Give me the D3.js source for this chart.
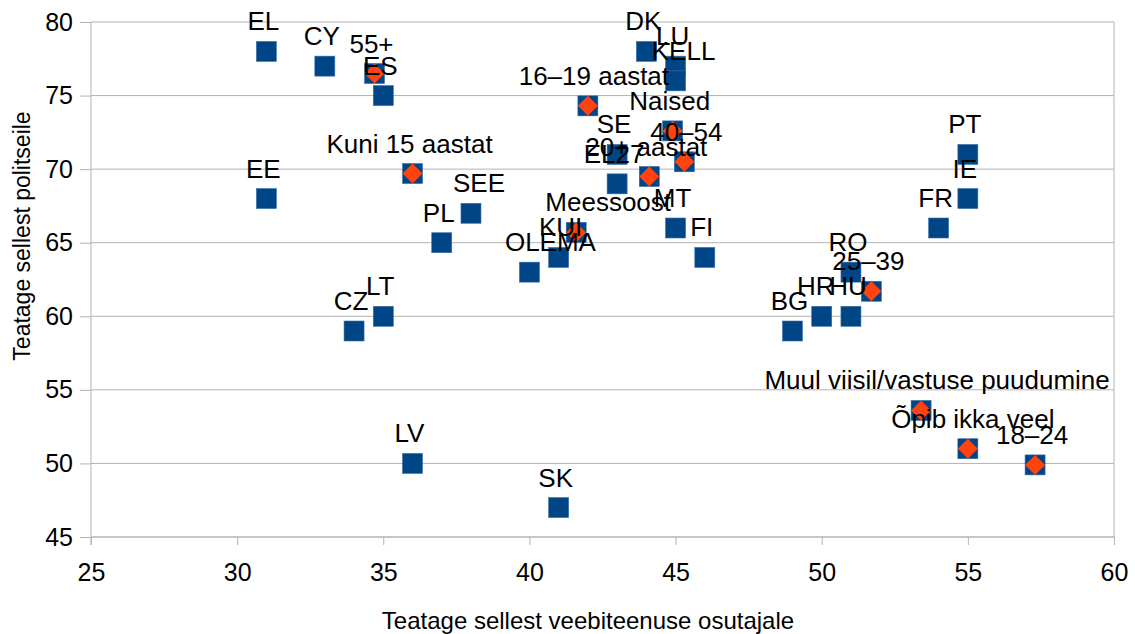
<!DOCTYPE html>
<html>
<head>
<meta charset="utf-8">
<script src="https://cdn.jsdelivr.net/npm/d3@7"></script>
<style>
  body { margin: 0; background: #fff; }
  text { font-family: "Liberation Sans", Arial, sans-serif; fill: #000; }
  .grid line { stroke: #b3b3b3; stroke-width: 1; }
  .axis path, .axis line { stroke: #b3b3b3; }
  .axis text { font-size: 25px; }
  .pt-label { font-size: 26px; text-anchor: middle; }
  .axis-label { font-size: 24px; text-anchor: middle; }
</style>
</head>
<body>
<div id="scatterplot"></div>
<script>
const width = 1135, height = 634;
const margin = {top: 22, bottom: 97, left: 91, right: 21};

// square series (countries and other points)
const squareLabels = ['EL','CY','ES','EE','PL','SEE','OLEMA','KUI','CZ','LT','LV','SK','DK','LU','KELL',
                      'SE','EL27','MT','FI','BG','HR','HU','RO','FR','PT','IE'];
const squareX = [31,33,35,31,37,38,40,41,34,35,36,41,44,45,45,43,43,45,46,49,50,51,51,54,55,55];
const squareY = [78,77,75,68,65,67,63,64,59,60,50,47,78,77,76,71,69,66,64,59,60,60,63,66,71,68];

// diamond series (population groups)
const groupLabels = ['55+','16–19 aastat','Naised','40–54','20+ aastat','Kuni 15 aastat','Meessoost',
                     '25–39','Muul viisil/vastuse puudumine','Õpib ikka veel','18–24'];
const groupX = [34.7,42.0,44.9,45.3,44.1,36.0,41.6,51.7,53.4,55.0,57.3];
const groupY = [76.5,74.3,72.6,70.5,69.5,69.7,65.7,61.7,53.6,51.0,49.9];

const xTicks = [25,30,35,40,45,50,55,60];
const yTicks = [45,50,55,60,65,70,75,80];

// label nudges where the original labels sit off-centre
const labelShift = {'Meessoost': 35, 'OLEMA': 24, 'SEE': 11, 'KELL': 11,
                    'Muul viisil/vastuse puudumine': 19, 'Õpib ikka veel': 8, '16–19 aastat': 9,
                    '40–54': 5, 'KUI': 5, 'HR': -3};

const graph_width = width - margin.left - margin.right;
const graph_height = height - margin.top - margin.bottom;

const x = d3.scaleLinear().domain([25, 60]).range([margin.left, margin.left + graph_width]);
const y = d3.scaleLinear().domain([45, 80]).range([margin.top + graph_height, margin.top]);

const svg = d3.select('#scatterplot').append('svg')
    .attr('width', width)
    .attr('height', height);

// horizontal grid
svg.append('g').attr('class', 'grid')
    .selectAll('line').data(yTicks).enter().append('line')
    .attr('x1', margin.left).attr('x2', margin.left + graph_width)
    .attr('y1', d => y(d)).attr('y2', d => y(d));

// right border
svg.append('line')
    .attr('x1', x(60)).attr('x2', x(60))
    .attr('y1', y(80)).attr('y2', y(45))
    .attr('stroke', '#b3b3b3');

const xAxis = svg.append('g').attr('class', 'axis')
    .attr('transform', 'translate(0,' + (margin.top + graph_height) + ')')
    .call(d3.axisBottom(x).tickValues(xTicks).tickSize(8).tickSizeOuter(0).tickPadding(18));
xAxis.select('.domain').attr('d', 'M' + x(25) + ',0H' + x(60));

const yAxis = svg.append('g').attr('class', 'axis')
    .attr('transform', 'translate(' + margin.left + ',0)')
    .call(d3.axisLeft(y).tickValues(yTicks).tickSize(11).tickSizeOuter(0).tickPadding(7));
yAxis.select('.domain').attr('d', 'M0,' + y(80) + 'V' + (y(45) + 8));

const squares = squareLabels.map((l, i) => ({label: l, x: squareX[i], y: squareY[i]}));
const groups = groupLabels.map((l, i) => ({label: l, x: groupX[i], y: groupY[i]}));

const sq = 20;
// blue squares: all points (groups have a square behind the diamond too)
svg.append('g').selectAll('rect')
    .data(squares.concat(groups)).enter().append('rect')
    .attr('x', d => x(d.x) - sq / 2)
    .attr('y', d => y(d.y) - sq / 2)
    .attr('width', sq).attr('height', sq)
    .attr('fill', '#004586')
    .attr('stroke', '#3a6fa8').attr('stroke-width', 0.6);

const dm = 10;
svg.append('g').selectAll('path')
    .data(groups).enter().append('path')
    .attr('d', d => {
        const cx = x(d.x), cy = y(d.y);
        return 'M' + cx + ',' + (cy - dm) + 'L' + (cx + dm) + ',' + cy +
               'L' + cx + ',' + (cy + dm) + 'L' + (cx - dm) + ',' + cy + 'Z';
    })
    .attr('fill', '#ff420e');

// labels
svg.append('g').selectAll('text')
    .data(squares.concat(groups)).enter().append('text')
    .attr('class', 'pt-label')
    .attr('x', d => x(d.x) - 3 + (labelShift[d.label] || 0))
    .attr('y', d => y(d.y) - 21)
    .text(d => d.label);

svg.append('text')
    .attr('class', 'axis-label')
    .attr('x', 588)
    .attr('y', 629)
    .text('Teatage sellest veebiteenuse osutajale');

svg.append('text')
    .attr('class', 'axis-label')
    .style('font-size', '23px')
    .attr('transform', 'translate(30,236) rotate(-90)')
    .text('Teatage sellest politseile');
</script>
</body>
</html>
